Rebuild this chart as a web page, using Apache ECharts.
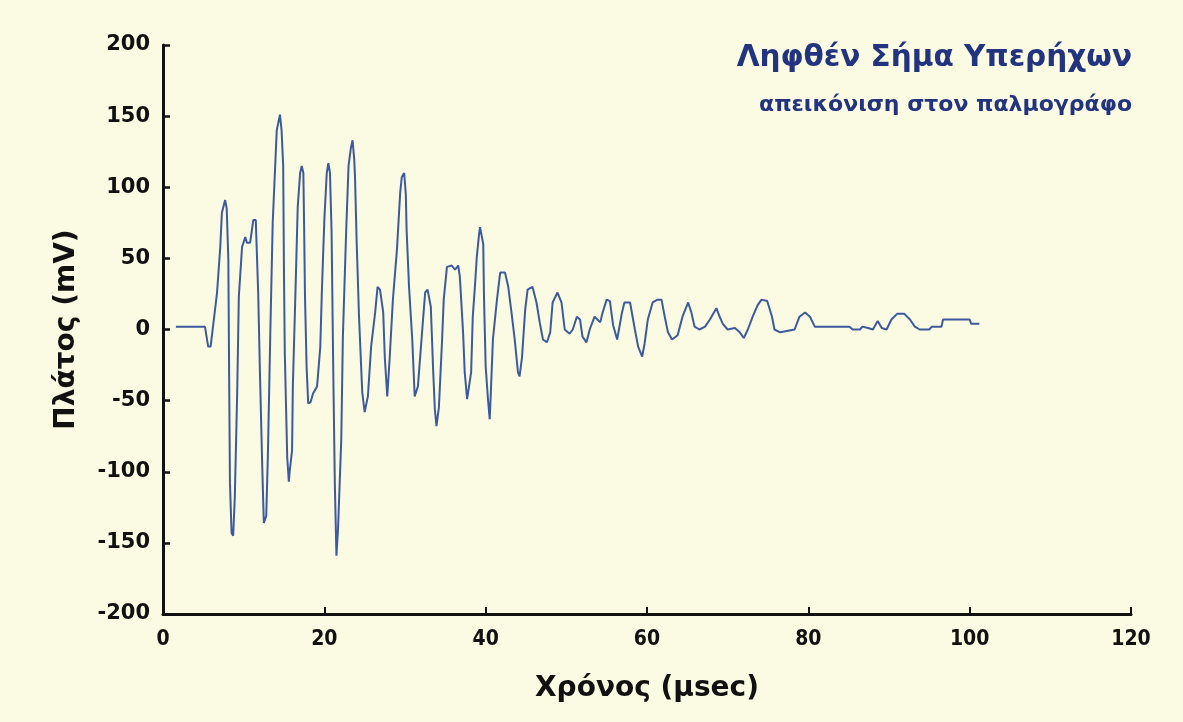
<!DOCTYPE html>
<html>
<head>
<meta charset="utf-8">
<script src="https://cdn.jsdelivr.net/npm/echarts@6/dist/echarts.min.js"></script>
<style>
  html, body { margin: 0; padding: 0; background: #fbfae2; }
  #chart { width: 1183px; height: 722px; }
</style>
</head>
<body>
<div id="chart"></div>
<script>
// Received ultrasonic pulse as captured on the oscilloscope
const titleText = 'Ληφθέν Σήμα Υπερήχων';
const subtitleText = 'απεικόνιση στον παλμογράφο';
const xAxisName = 'Χρόνος (μsec)';
const yAxisName = 'Πλάτος (mV)';

// time samples (μsec)
const timeUs = [
  1.6, 5.2, 5.6, 5.9, 6.2, 6.7, 7.1, 7.3, 7.7, 7.9, 8.1, 8.2, 8.3, 8.5, 8.7, 8.9,
  9.2, 9.4, 9.8, 10.2, 10.4, 10.8, 11.2, 11.5, 11.8, 12.0, 12.3, 12.5, 12.8, 13.0,
  13.3, 13.6, 14.1, 14.5, 14.7, 14.9, 15.0, 15.1, 15.4, 15.6, 15.7, 16.0, 16.1,
  16.4, 16.7, 17.0, 17.2, 17.4, 17.5, 17.6, 17.8, 18.0, 18.3, 18.6, 19.1, 19.5,
  19.7, 20.0, 20.3, 20.5, 20.7, 20.9, 21.1, 21.3, 21.5, 21.7, 22.1, 22.3, 22.7,
  23.0, 23.3, 23.5, 23.7, 23.8, 24.0, 24.3, 24.7, 25.0, 25.4, 25.8, 26.3, 26.6,
  26.9, 27.3, 27.5, 27.8, 28.1, 28.5, 29.0, 29.4, 29.6, 29.9, 30.1, 30.2, 30.5,
  30.9, 31.2, 31.6, 32.1, 32.5, 32.8, 33.2, 33.5, 33.7, 33.9, 34.2, 34.6, 34.8,
  35.2, 35.8, 36.2, 36.6, 36.8, 37.2, 37.4, 37.7, 37.9, 38.2, 38.4, 38.7, 38.9,
  39.2, 39.3, 39.7, 39.8, 40.0, 40.3, 40.5, 40.6, 40.9, 41.4, 41.8, 42.4, 42.8,
  43.2, 43.6, 44.0, 44.2, 44.5, 44.9, 45.2, 45.8, 46.3, 46.7, 47.1, 47.6, 48.0,
  48.3, 48.9, 49.4, 49.8, 50.4, 50.8, 51.3, 51.7, 52.0, 52.5, 52.9, 53.5, 54.2,
  54.5, 55.0, 55.4, 55.8, 56.3, 56.9, 57.2, 57.9, 58.5, 58.9, 59.4, 59.7, 60.1,
  60.7, 61.3, 61.8, 62.2, 62.6, 63.1, 63.8, 64.4, 65.1, 65.5, 65.9, 66.5, 67.2,
  67.8, 68.6, 69.0, 69.4, 70.0, 70.9, 71.5, 72.0, 72.5, 73.1, 73.7, 74.2, 74.9,
  75.5, 75.8, 76.5, 78.3, 78.9, 79.6, 80.2, 80.8, 85.1, 85.5, 86.4, 86.7, 87.4,
  88.0, 88.6, 89.1, 89.7, 90.3, 91.0, 91.9, 92.6, 93.2, 93.8, 95.0, 95.3, 96.5,
  96.7, 100.0, 100.2, 101.2
];

// amplitude samples (mV)
const amplitudeMv = [
  2, 2, -12, -12, 2, 26, 58, 82, 91, 85, 49, -33, -108, -143, -145, -118,
  -44, 23, 58, 65, 61, 61, 77, 77, 26, -26, -96, -136, -131, -89,
  -3, 75, 140, 151, 140, 115, 37, -17, -90, -107, -100, -85, -39,
  22, 86, 110, 115, 110, 70, 24, -26, -52, -51, -45, -40, -12,
  28, 77, 110, 117, 110, 68, -26, -108, -159, -140, -77, -5, 68,
  115, 128, 133, 120, 108, 63, 9, -44, -58, -47, -12, 12, 30,
  28, 12, -20, -47, -20, 21, 56, 96, 107, 110, 95, 70, 30,
  -7, -47, -40, -3, 26, 28, 16, -30, -56, -68, -55, -7, 21,
  44, 45, 42, 45, 37, -2, -30, -49, -50, -30, 9, 33, 51,
  68, 72, 60, 21, -26, -50, -63, -50, -7, 21, 40, 40, 30,
  12, -7, -30, -33, -20, 14, 28, 30, 19, 5, -7, -9, -2,
  19, 26, 19, 0, -3, 0, 9, 7, -5, -9, 0, 9, 5,
  12, 21, 20, 3, -7, 12, 19, 19, 0, -12, -19, -10, 7,
  19, 21, 21, 9, -2, -7, -4, 9, 19, 12, 2, 0, 2,
  7, 15, 9, 4, 0, 1, -2, -6, 0, 9, 17, 21, 20,
  9, 0, -2, 0, 9, 12, 9, 2, 2, 0, 0, 2, 1,
  0, 6, 1, 0, 7, 11, 11, 7, 2, 0, 0, 2, 2,
  7, 7, 4, 4
];

// axis tick settings
const xMin = 0, xMax = 120, xStep = 20;
const yMin = -200, yMax = 200, yStep = 50;

const seriesData = timeUs.map((t, i) => [t, amplitudeMv[i]]);

const chart = echarts.init(document.getElementById('chart'), null, { renderer: 'canvas' });

const labelFont = {
  color: '#111',
  fontFamily: 'DejaVu Sans',
  fontWeight: 'bold',
  fontSize: 21
};

chart.setOption({
  backgroundColor: '#fbfae2',
  animation: false,
  title: [
    {
      text: titleText,
      right: 46,
      top: 38,
      textStyle: {
        color: '#22347f',
        fontFamily: 'DejaVu Sans',
        fontWeight: 'bold',
        fontSize: 29.5
      }
    },
    {
      text: subtitleText,
      right: 46,
      top: 89,
      textStyle: {
        color: '#22347f',
        fontFamily: 'DejaVu Sans',
        fontWeight: 'bold',
        fontSize: 22
      }
    }
  ],
  grid: {
    left: 163,
    right: 52,
    top: 45,
    bottom: 108,
    containLabel: false
  },
  xAxis: {
    type: 'value',
    min: xMin,
    max: xMax,
    interval: xStep,
    name: xAxisName,
    nameLocation: 'middle',
    nameGap: 61,
    nameTextStyle: {
      color: '#111',
      fontFamily: 'DejaVu Sans',
      fontWeight: 'bold',
      fontSize: 28
    },
    axisLine: { show: true, onZero: false, lineStyle: { color: '#111', width: 3 } },
    axisTick: { show: true, inside: true, length: 7, lineStyle: { color: '#111', width: 2 } },
    axisLabel: Object.assign({ margin: 15 }, labelFont, { fontFamily: 'DejaVu Sans Condensed' }),
    splitLine: { show: false }
  },
  yAxis: {
    type: 'value',
    min: yMin,
    max: yMax,
    interval: yStep,
    name: yAxisName,
    nameLocation: 'middle',
    nameGap: 82,
    nameRotate: 90,
    nameTextStyle: {
      color: '#111',
      fontFamily: 'DejaVu Sans',
      fontWeight: 'bold',
      fontSize: 28
    },
    axisLine: { show: true, onZero: false, lineStyle: { color: '#111', width: 3 } },
    axisTick: { show: true, inside: true, length: 7, lineStyle: { color: '#111', width: 2.5 } },
    axisLabel: Object.assign({ margin: 13 }, labelFont),
    splitLine: { show: false }
  },
  series: [
    {
      type: 'line',
      data: seriesData,
      showSymbol: false,
      smooth: false,
      lineStyle: { color: '#3d5a9e', width: 2 },
      z: 3
    }
  ]
});
</script>
</body>
</html>
